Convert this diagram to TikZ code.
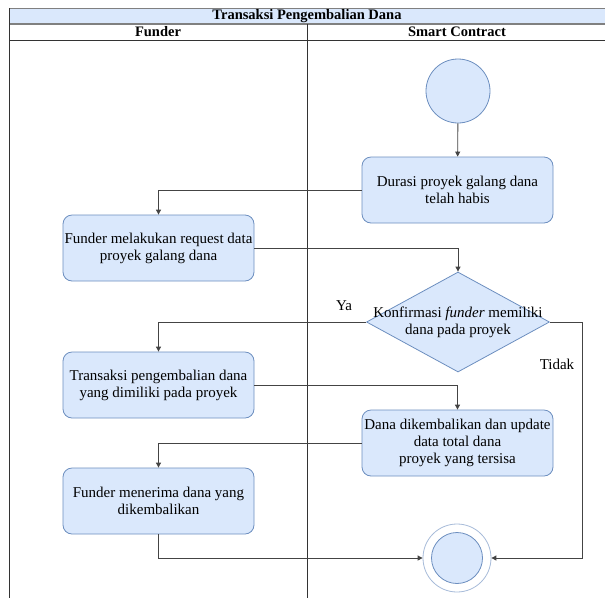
\documentclass[tikz,border=0pt]{standalone}
\usepackage{fontspec}
\setmainfont{Liberation Serif}
\usetikzlibrary{shapes.geometric,arrows.meta}
\definecolor{boxfill}{HTML}{DAE8FC}
\definecolor{boxline}{HTML}{6C8EBF}
\definecolor{lanegray}{HTML}{333333}
\definecolor{wiregray}{HTML}{444444}

\begin{document}
\begin{tikzpicture}[x=1pt,y=-1pt,
  every node/.style={font=\fontsize{15}{17}\selectfont},
  action/.style={draw=boxline, fill=boxfill, rounded corners=9pt, line width=0.8pt,
    minimum width=191pt, minimum height=66pt, align=center, inner sep=1pt},
  startnode/.style={circle, draw=boxline, fill=boxfill, line width=0.8pt,
    minimum size=64pt, inner sep=0pt},
  decision/.style={diamond, draw=boxline, fill=boxfill, line width=0.8pt,
    minimum width=183pt, minimum height=100pt, inner sep=0pt},
  endouter/.style={circle, draw=boxline!60, fill=white, line width=0.8pt,
    minimum size=68pt, inner sep=0pt},
  endinner/.style={circle, draw=boxline, fill=boxfill, line width=0.8pt,
    minimum size=51pt, inner sep=0pt},
  flow/.style={draw=wiregray, line width=0.9pt, -{Triangle[length=5pt,width=5pt]}},
  lane/.style={draw=lanegray, line width=1pt},
  headtext/.style={font=\fontsize{14.5}{16}\selectfont\bfseries}
]
\useasboundingbox (0,0) rectangle (605,598);

% swimlane frame
\fill[boxfill] (9,8) rectangle (605,24);
\draw[draw=gray, line width=1pt] (9,8) -- (605,8);
\draw[draw=gray, line width=1.2pt] (9,24) -- (605,24);
\draw[lane] (9,40) -- (605,40);
\draw[lane] (9,8) -- (9,598);
\draw[lane] (307,24) -- (307,598);
\node[headtext] (title) at (307,16) {Transaksi Pengembalian Dana};
\node[headtext] (laneA) at (158,32) {Funder};
\node[headtext] (laneB) at (457,32) {Smart Contract};

% activities
\node[startnode] (start) at (458,91) {};
\node[action] (durasi) at (457.5,190) {Durasi proyek galang dana\\telah habis};
\node[action] (req) at (158.5,248) {Funder melakukan request data\\proyek galang dana};
\node[decision, label={[align=center, font=\fontsize{15}{17}\selectfont]center:Konfirmasi \textit{funder} memiliki\\dana pada proyek}] (cek) at (458,322) {};
\node[action] (trans) at (158.5,385) {Transaksi pengembalian dana\\yang dimiliki pada proyek};
\node[action] (dana) at (457.5,443) {Dana dikembalikan dan update\\data total dana\\proyek yang tersisa};
\node[action] (terima) at (158.5,501) {Funder menerima dana yang\\dikembalikan};
\node[endouter] (end) at (457,558) {};
\node[endinner] (endcore) at (end.center) {};

\coordinate (tturn) at (582,322);

% control flow
\draw[flow] (start) -- (durasi);
\draw[flow] (durasi.west) -| (req.north);
\draw[flow] (req.east) -| (cek.north);
\draw[flow] (cek.west) -| (trans.north);
\draw[flow] (trans.east) -| (dana.north);
\draw[flow] (dana.west) -| (terima.north);
\draw[flow] (terima.south) |- (end.west);
\draw[flow] (cek.east) -- (tturn) |- (end.east);

\node (ya) at (344,306) {Ya};
\node (tidak) at (557,364) {Tidak};
\end{tikzpicture}
\end{document}
